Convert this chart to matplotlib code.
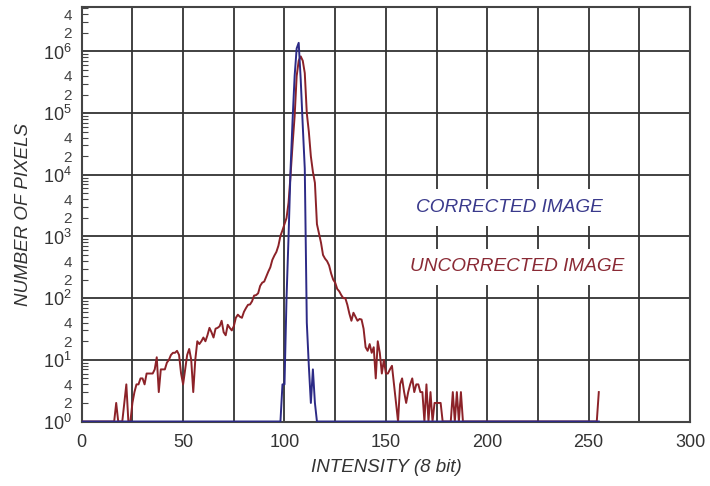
import numpy as np
import matplotlib
matplotlib.use("Agg")
import matplotlib.pyplot as plt
from matplotlib.ticker import LogLocator, MultipleLocator, FuncFormatter, NullFormatter

plt.rcParams['font.family'] = ['Liberation Sans', 'DejaVu Sans']
plt.rcParams['mathtext.default'] = 'regular'

# 8-bit histogram counts; bins not listed are empty
red_first_bin = 15
red_counts = [
    0, 0, 2, 0, 0, 0, 2, 4, 0, 0,                                  # 15-24
    2, 3, 4, 4, 5, 5, 4, 6, 6, 6,                                  # 25-34
    6, 7, 11, 3, 7, 7, 7, 9, 10, 12,                               # 35-44
    13, 13, 14, 12, 6, 4, 7, 12, 15, 10,                           # 45-54
    3, 10, 20, 18, 20, 23, 20, 25, 33, 28,                         # 55-64
    23, 32, 33, 35, 43, 28, 25, 37, 33, 30,                        # 65-74
    35, 48, 54, 50, 48, 60, 69, 78, 79, 89,                        # 75-84
    110, 112, 120, 158, 178, 186, 224, 269, 316, 417,              # 85-94
    490, 562, 708, 1023, 1259, 1585, 1995, 3548, 10000, 31623,     # 95-104
    89125, 398107, 707946, 831764, 707946, 446684, 100000, 50119, 19953, 11220,  # 105-114
    7413, 1585, 1122, 794, 501, 437, 398, 339, 251, 200,           # 115-124
    178, 141, 129, 112, 100, 100, 78, 56, 43, 58,                  # 125-134
    50, 43, 46, 45, 32, 16, 14, 18, 13, 16,                        # 135-144
    5, 20, 13, 6, 10, 6, 6, 7, 8, 4,                               # 145-154
    2, 0, 4, 5, 3, 2, 3, 4, 5, 3,                                  # 155-164
    4, 4, 3, 3, 0, 4, 0, 3, 0, 2,                                  # 165-174
    2, 2, 2, 0, 0, 0, 0, 0, 3, 0,                                  # 175-184
    3, 0, 3, 0,                                                    # 185-188
]
red_spike_bins = [254, 255]
red_spike_counts = [0, 3]

blue_first_bin = 98
blue_counts = [
    0, 4, 4, 100, 1000, 12600, 79400, 400000, 1120000, 1380000,   # 98-107
    350000, 63000, 12600, 40, 8, 2, 7, 2, 0,                       # 108-116
]

x_ticks = [0, 50, 100, 150, 200, 250, 300]
y_minor_labels = [2, 4]
y_min, y_max = 1, 5.2e6


def full_hist(first_bin, counts, extra_bins=(), extra_counts=()):
    h = np.zeros(256)
    h[first_bin:first_bin + len(counts)] = counts
    h[list(extra_bins)] = extra_counts
    return np.maximum(h, 1)  # empty bins sit on the 10^0 floor


intensity = np.arange(256)
red = full_hist(red_first_bin, red_counts, red_spike_bins, red_spike_counts)
blue = full_hist(blue_first_bin, blue_counts)

fig = plt.figure(figsize=(7.10, 4.86), dpi=100)
ax = fig.add_axes([0.1151, 0.1327, 0.8568, 0.8523])

ax.plot(intensity, red, color='#8c2228', lw=1.4, zorder=3)
ax.plot(intensity, blue, color='#2c2a86', lw=1.4, zorder=4)

ax.set_yscale('log')
ax.set_xlim(0, 300)
ax.set_ylim(y_min, y_max)

ax.set_xticks(x_ticks)
ax.xaxis.set_minor_locator(MultipleLocator(25))
ax.xaxis.set_minor_formatter(NullFormatter())


def major_fmt(v, p):
    if v < y_min * 0.99 or v > y_max:
        return ''
    return '$10^{%d}$' % round(np.log10(v))


def minor_fmt(v, p):
    if v < y_min or v > y_max:
        return ''
    m = v / 10 ** np.floor(np.log10(v) + 1e-9)
    return '%d' % round(m) if round(m) in y_minor_labels else ''


ax.yaxis.set_major_locator(LogLocator(base=10, numticks=20))
ax.yaxis.set_minor_locator(LogLocator(base=10, subs=range(2, 10), numticks=20))
ax.yaxis.set_major_formatter(FuncFormatter(major_fmt))
ax.yaxis.set_minor_formatter(FuncFormatter(minor_fmt))

gc = '#333333'
ax.grid(True, which='major', axis='y', color=gc, lw=1.3)
ax.grid(True, which='both', axis='x', color=gc, lw=1.3)
ax.set_axisbelow(True)
for s in ax.spines.values():
    s.set_color('#444444')
    s.set_linewidth(1.5)

ax.tick_params(axis='x', which='both', length=0, labelsize=13, pad=9, colors='#333333')
ax.tick_params(axis='y', which='major', length=0, labelsize=13, pad=7, colors='#333333')
ax.tick_params(axis='y', which='minor', direction='in', length=4, width=0.8,
               labelsize=11, pad=7, colors='#444444')

ax.set_xlabel('INTENSITY (8 bit)', fontsize=13.5, style='italic', color='#333333', labelpad=6)
ax.set_ylabel('NUMBER OF PIXELS', fontsize=13.5, style='italic', color='#333333', labelpad=8)

box = dict(boxstyle='square,pad=0.5', fc='white', ec='none')
ax.text(210.7, 10 ** 3.47, 'CORRECTED IMAGE', color='#3a3a8c', fontsize=13.7,
        style='italic', ha='center', va='center', bbox=box, zorder=5)
ax.text(214.6, 10 ** 2.51, 'UNCORRECTED IMAGE', color='#8a2a35', fontsize=13.7,
        style='italic', ha='center', va='center', bbox=box, zorder=5)

fig.savefig('out.png', dpi=100)
